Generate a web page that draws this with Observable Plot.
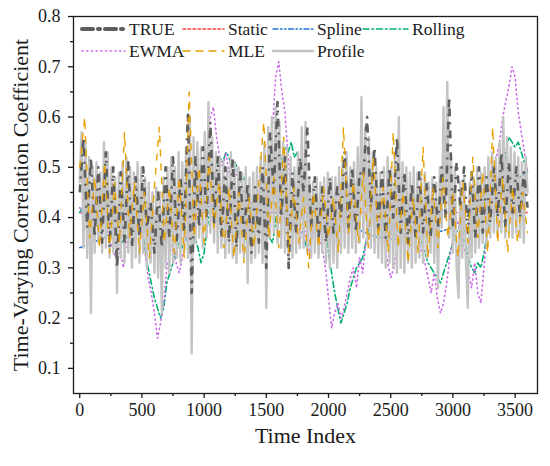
<!DOCTYPE html>
<html><head><meta charset="utf-8">
<script src="https://cdn.jsdelivr.net/npm/d3@7"></script>
<script src="https://cdn.jsdelivr.net/npm/@observablehq/plot@0.6"></script>
<style>
body{margin:0;background:#fff;}
#wrap{position:relative;width:550px;height:466px;}
#legend{position:absolute;left:0;top:0;pointer-events:none;}
</style></head><body><div id="wrap"></div>
<script>
// ---- tick values ----
const xTicks = [0, 500, 1000, 1500, 2000, 2500, 3000, 3500];
const xMinor = [250, 750, 1250, 1750, 2250, 2750, 3250];
const yTicks = [0.1, 0.2, 0.3, 0.4, 0.5, 0.6, 0.7, 0.8];
const yMinor = [0.15, 0.25, 0.35, 0.45, 0.55, 0.65, 0.75];

// ---- series values (time index = i*step) ----
const trueStep = 30;
const trueVals = [0.45,0.56,0.38,0.52,0.36,0.50,0.35,0.53,0.34,0.50,0.30,0.49,0.35,0.51,0.34,0.48,0.36,0.50,0.38,0.43,
0.33,0.45,0.34,0.50,0.36,0.52,0.35,0.48,0.37,0.61,0.25,0.52,0.38,0.54,0.40,0.59,0.39,0.52,0.36,0.50,
0.35,0.52,0.34,0.49,0.36,0.47,0.33,0.46,0.35,0.50,0.30,0.57,0.45,0.63,0.40,0.52,0.30,0.49,0.37,0.52,
0.45,0.58,0.38,0.48,0.36,0.46,0.35,0.48,0.37,0.46,0.40,0.53,0.38,0.50,0.37,0.49,0.48,0.60,0.42,0.54,
0.38,0.49,0.36,0.50,0.40,0.56,0.37,0.49,0.35,0.47,0.36,0.49,0.37,0.47,0.36,0.48,0.38,0.50,0.40,0.64,
0.38,0.51,0.42,0.50,0.37,0.49,0.36,0.50,0.37,0.48,0.39,0.50,0.40,0.53,0.38,0.51,0.41,0.50,0.40,0.49,0.42];

const staticStep = 3600;
const staticVals = [0.41, 0.41];

const splineStep = 200;
const splineVals = [0.34,0.36,0.39,0.40,0.41,0.42,0.43,0.42,0.43,0.43,0.41,0.38,0.36,0.355,0.365,0.38,0.42,0.46,0.49];

const rollingStep = 25;
const rollingVals = [0.41,0.42,0.40,0.41,0.42,0.41,0.40,0.41,0.42,0.40,0.39,0.38,0.37,0.36,0.35,0.36,0.37,0.40,0.42,0.41,
0.38,0.34,0.30,0.27,0.24,0.22,0.20,0.22,0.27,0.29,0.31,0.33,0.35,0.34,0.36,0.35,0.33,0.36,0.34,0.31,
0.33,0.38,0.43,0.47,0.50,0.52,0.51,0.53,0.52,0.50,0.51,0.49,0.47,0.48,0.45,0.43,0.42,0.41,0.40,0.38,
0.37,0.36,0.35,0.39,0.47,0.52,0.54,0.53,0.55,0.52,0.53,0.46,0.36,0.34,0.35,0.38,0.41,0.43,0.42,0.38,
0.33,0.29,0.25,0.22,0.19,0.21,0.23,0.26,0.28,0.30,0.31,0.32,0.35,0.38,0.41,0.40,0.39,0.38,0.37,0.36,
0.37,0.36,0.37,0.38,0.40,0.41,0.39,0.40,0.38,0.37,0.35,0.33,0.31,0.30,0.29,0.28,0.27,0.29,0.31,0.33,
0.35,0.37,0.38,0.36,0.35,0.32,0.30,0.29,0.31,0.30,0.33,0.37,0.43,0.46,0.47,0.45,0.49,0.53,0.56,0.55,
0.54,0.55,0.53,0.51,0.49];

const ewmaStep = 25;
const ewmaVals = [0.42,0.40,0.43,0.41,0.39,0.42,0.40,0.38,0.41,0.37,0.35,0.33,0.31,0.34,0.30,0.35,0.38,0.41,0.43,0.40,
0.37,0.33,0.28,0.25,0.21,0.16,0.19,0.23,0.30,0.33,0.35,0.31,0.29,0.32,0.36,0.38,0.34,0.40,0.44,0.47,
0.42,0.52,0.60,0.62,0.56,0.52,0.50,0.53,0.49,0.51,0.48,0.50,0.47,0.45,0.42,0.40,0.44,0.41,0.43,0.46,
0.45,0.50,0.58,0.68,0.71,0.65,0.61,0.52,0.45,0.41,0.38,0.36,0.39,0.35,0.33,0.38,0.41,0.36,0.34,0.30,
0.24,0.18,0.21,0.23,0.20,0.22,0.25,0.28,0.30,0.26,0.32,0.29,0.35,0.39,0.41,0.43,0.40,0.38,0.35,0.31,
0.28,0.30,0.34,0.37,0.40,0.42,0.39,0.41,0.38,0.36,0.33,0.31,0.28,0.25,0.29,0.24,0.21,0.23,0.27,0.32,
0.36,0.40,0.38,0.35,0.33,0.29,0.26,0.31,0.25,0.23,0.30,0.38,0.44,0.48,0.52,0.55,0.60,0.63,0.66,0.70,
0.68,0.61,0.57,0.53,0.49];

const mleStep = 40;
const mleVals = [0.50,0.60,0.36,0.48,0.34,0.51,0.33,0.47,0.35,0.57,0.36,0.47,0.33,0.45,0.32,0.46,0.58,0.35,0.46,0.33,
0.48,0.32,0.65,0.36,0.50,0.35,0.52,0.38,0.47,0.34,0.46,0.32,0.45,0.31,0.44,0.34,0.47,0.59,0.36,0.48,
0.34,0.56,0.33,0.46,0.35,0.44,0.30,0.45,0.34,0.46,0.36,0.44,0.33,0.58,0.37,0.47,0.35,0.49,0.34,0.52,
0.36,0.46,0.33,0.57,0.34,0.45,0.31,0.44,0.33,0.54,0.32,0.46,0.34,0.48,0.36,0.45,0.32,0.47,0.35,0.52,
0.36,0.49,0.33,0.58,0.35,0.48,0.33,0.46,0.35,0.45,0.37];

const profileStep = 15;
const profileVals = [
0.47,0.57,0.34,0.55,0.32,0.52,0.21,0.50,0.33,0.51,0.35,0.49,0.33,0.55,0.34,0.53,0.32,0.50,0.33,0.48,
0.25,0.49,0.32,0.51,0.31,0.52,0.33,0.50,0.30,0.49,0.32,0.51,0.31,0.50,0.33,0.48,0.30,0.47,0.31,0.45,
0.29,0.46,0.28,0.45,0.21,0.48,0.30,0.50,0.29,0.52,0.31,0.50,0.32,0.53,0.31,0.51,0.33,0.54,0.32,0.60,
0.13,0.56,0.35,0.55,0.36,0.54,0.34,0.57,0.36,0.63,0.37,0.56,0.35,0.53,0.33,0.52,0.34,0.51,0.32,0.50,
0.33,0.53,0.32,0.51,0.31,0.50,0.33,0.49,0.32,0.50,0.27,0.48,0.31,0.49,0.32,0.50,0.33,0.52,0.31,0.55,
0.22,0.58,0.36,0.60,0.37,0.62,0.35,0.59,0.34,0.55,0.33,0.54,0.30,0.52,0.32,0.50,0.33,0.53,0.34,0.58,
0.34,0.59,0.33,0.48,0.32,0.47,0.33,0.48,0.32,0.47,0.33,0.48,0.31,0.49,0.30,0.48,0.31,0.48,0.30,0.50,
0.33,0.52,0.34,0.53,0.33,0.50,0.34,0.51,0.33,0.54,0.35,0.64,0.36,0.58,0.35,0.56,0.34,0.53,0.33,0.50,
0.32,0.49,0.31,0.50,0.30,0.52,0.31,0.50,0.30,0.53,0.29,0.60,0.30,0.51,0.29,0.50,0.31,0.49,0.30,0.50,
0.31,0.49,0.32,0.48,0.31,0.49,0.32,0.47,0.33,0.48,0.31,0.47,0.26,0.50,0.38,0.62,0.40,0.67,0.36,0.52,
0.33,0.50,0.30,0.24,0.47,0.32,0.48,0.31,0.22,0.47,0.32,0.48,0.33,0.50,0.34,0.49,0.35,0.50,0.34,0.52,
0.36,0.53,0.37,0.52,0.36,0.55,0.37,0.60,0.36,0.56,0.37,0.54,0.36,0.53,0.37,0.52,0.36,0.51,0.35,0.52,
0.45];

const series = [
  {name:"TRUE",    step:trueStep,    values:trueVals,    color:"#5e5e5e", width:2.6, dash:"8,6,2,6"},
  {name:"Static",  step:staticStep,  values:staticVals,  color:"#ff3b3b", width:1.5, dash:"2.5,2.5"},
  {name:"Spline",  step:splineStep,  values:splineVals,  color:"#1f78d6", width:1.5, dash:"5,2.5,1.5,2.5,1.5,2.5"},
  {name:"Rolling", step:rollingStep, values:rollingVals, color:"#00b173", width:1.6, dash:"6,3,1.5,3"},
  {name:"EWMA",    step:ewmaStep,    values:ewmaVals,    color:"#cc6be8", width:1.6, dash:"1.2,3.5"},
  {name:"MLE",     step:mleStep,     values:mleVals,     color:"#e8a000", width:1.4, dash:"6,8"},
  {name:"Profile", step:profileStep, values:profileVals, color:"#c4c4c4", width:2.4, dash:null}
];
const rowsOf = s => s.values.map((v, i) => ({t: i * s.step, v, series: s.name}));
const byName = Object.fromEntries(series.map(s => [s.name, s]));
const drawOrder = ["Static", "Spline", "Rolling", "EWMA", "Profile", "TRUE", "MLE"];

const serif = "'Liberation Serif','Times New Roman',serif";
const ink = "#1a1a1a";

const plot = Plot.plot({
  width: 550, height: 466,
  marginLeft: 73, marginRight: 13, marginTop: 16, marginBottom: 73,
  x: {domain: [-50, 3680]},
  y: {domain: [0.05, 0.8]},
  style: {fontFamily: serif, color: ink, background: "#fff"},
  marks: [
    ...drawOrder.map(n => {
      const s = byName[n];
      return Plot.line(rowsOf(s), {x: "t", y: "v", stroke: s.color, strokeWidth: s.width,
        strokeDasharray: s.dash, strokeLinejoin: "round", strokeLinecap: n === "TRUE" ? "butt" : "round"});
    }),
    Plot.frame({stroke: ink, strokeWidth: 1.3}),
    Plot.axisX({ticks: xTicks, tickSize: 5, tickPadding: 5, fontSize: 18, fontFamily: serif, strokeWidth: 1.3, tickFormat: d3.format("d"), label: null}),
    Plot.axisX({ticks: xMinor, tickSize: 3, strokeWidth: 1.3, tickFormat: () => "", label: null}),
    Plot.axisY({ticks: yTicks, tickSize: 5, tickPadding: 8, fontSize: 18, fontFamily: serif, strokeWidth: 1.3, tickFormat: d3.format(".1f"), label: null}),
    Plot.axisY({ticks: yMinor, tickSize: 3, strokeWidth: 1.3, tickFormat: () => "", label: null}),
    Plot.text(["Time Index"], {frameAnchor: "bottom", dy: 49, fontSize: 22, fontFamily: serif, fill: ink}),
    Plot.text(["Time-Varying Correlation Coefficient"], {frameAnchor: "left", textAnchor: "middle", dx: -53, rotate: -90, fontSize: 22, fontFamily: serif, fill: ink})
  ]
});
const wrap = document.getElementById("wrap");
wrap.appendChild(plot);

// ---- legend overlay ----
const legendCols = [{s: 82, l: 129}, {s: 183, l: 228}, {s: 273, l: 317}, {s: 363, l: 412}];
const legendRows = [29, 51];
const lg = d3.select(wrap).append("svg").attr("id", "legend").attr("width", 550).attr("height", 80);
series.forEach((s, i) => {
  const c = legendCols[i % 4], y = legendRows[Math.floor(i / 4)];
  const isTrue = s.name === "TRUE";
  lg.append("line").attr("x1", c.s).attr("x2", c.l - 4).attr("y1", y).attr("y2", y)
    .attr("stroke", s.color).attr("stroke-width", isTrue ? 4 : s.width)
    .attr("stroke-dasharray", isTrue ? "11,5,2,5" : (s.name === "MLE" ? "7,6" : s.dash))
    .attr("stroke-linecap", "round");
  lg.append("text").attr("x", c.l).attr("y", y).attr("dy", "0.35em")
    .attr("font-family", serif).attr("font-size", 17.5).attr("fill", ink).text(s.name);
});
</script></body></html>
